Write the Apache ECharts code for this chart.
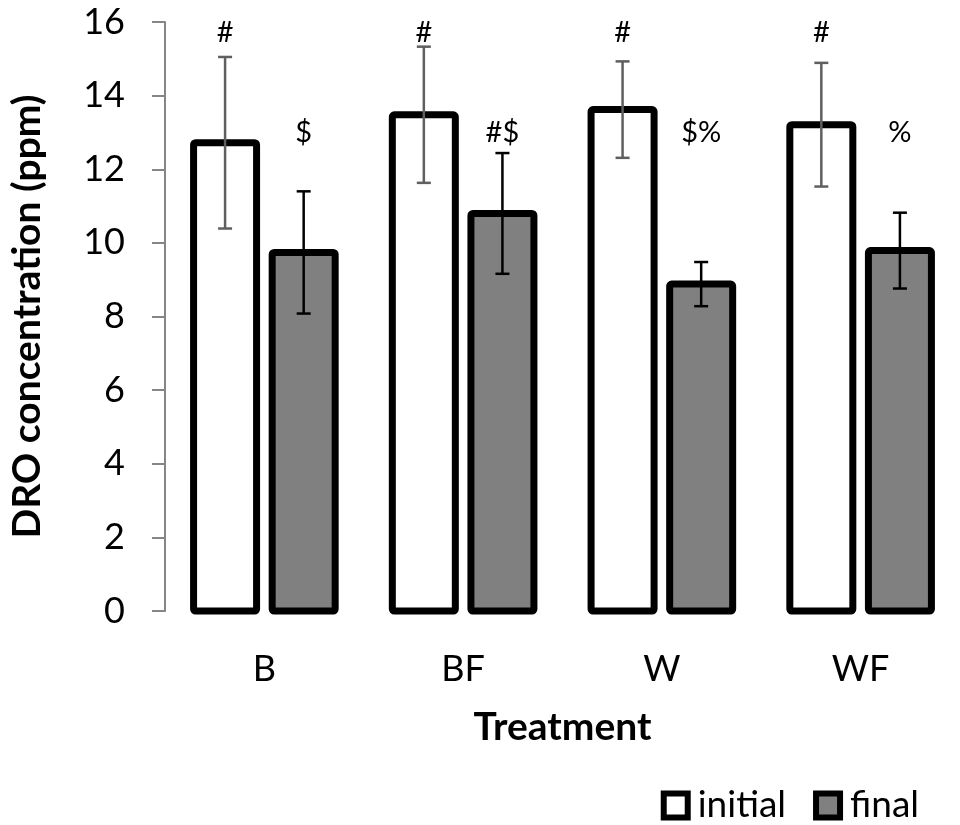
<!DOCTYPE html>
<html>
<head>
<meta charset="utf-8">
<script src="https://cdn.jsdelivr.net/npm/echarts@6/dist/echarts.min.js"></script>
<style>
  html, body { margin: 0; padding: 0; background: #fff; }
  #chart { width: 960px; height: 825px; }
</style>
</head>
<body>
<div id="chart"></div>
<script>
  // values
  var treatments = ['B', 'BF', 'W', 'WF'];
  var initialValues = [12.72, 13.48, 13.62, 13.21];
  var initialErrors = [2.33, 1.85, 1.31, 1.68];
  var finalValues = [9.74, 10.80, 8.88, 9.79];
  var finalErrors = [1.66, 1.64, 0.60, 1.03];
  var initialMarks = ['#', '#', '#', '#'];
  var finalMarks = ['$', '#$', '$%', '%'];
  var initialMarkLevel = 15.7;
  var finalMarkLevel = 13.0;
  var yTicks = [0, 2, 4, 6, 8, 10, 12, 14, 16];

  var fontName = 'Lato';
  var barWidth = 63;
  var barBorder = 7;
  var barShift = 39.3;

  function errorData(values, errors) {
    return values.map(function (v, i) {
      return [i, v - errors[i], v + errors[i]];
    });
  }

  function markData(marks, level) {
    return marks.map(function (m, i) {
      return [i, level, m];
    });
  }

  // bars drawn with the outline centred on the edge, as in the source figure
  function barSeries(name, values, shift, fill) {
    return {
      type: 'custom',
      name: name,
      data: values.map(function (v, i) { return [i, v]; }),
      itemStyle: { color: fill, borderColor: '#000', borderWidth: barBorder },
      z: 2,
      renderItem: function (params, api) {
        var base = api.coord([api.value(0), 0]);
        var top = api.coord([api.value(0), api.value(1)]);
        return {
          type: 'rect',
          shape: {
            x: base[0] + shift - barWidth / 2,
            y: top[1],
            width: barWidth,
            height: base[1] - top[1],
            r: 2
          },
          style: { fill: fill, stroke: '#000', lineWidth: barBorder, lineJoin: 'round' }
        };
      }
    };
  }

  function errorBarSeries(name, data, shift, color) {
    return {
      type: 'custom',
      name: name + ' error',
      data: data,
      z: 5,
      silent: true,
      renderItem: function (params, api) {
        var lo = api.coord([api.value(0), api.value(1)]);
        var hi = api.coord([api.value(0), api.value(2)]);
        var x = lo[0] + shift;
        var cap = 7;
        var style = { stroke: color, lineWidth: 2.5 };
        return {
          type: 'group',
          children: [
            { type: 'line', shape: { x1: x, y1: lo[1], x2: x, y2: hi[1] }, style: style },
            { type: 'line', shape: { x1: x - cap, y1: lo[1], x2: x + cap, y2: lo[1] }, style: style },
            { type: 'line', shape: { x1: x - cap, y1: hi[1], x2: x + cap, y2: hi[1] }, style: style }
          ]
        };
      }
    };
  }

  function markSeries(name, data, shift) {
    return {
      type: 'custom',
      name: name + ' marks',
      data: data,
      z: 6,
      silent: true,
      renderItem: function (params, api) {
        var p = api.coord([api.value(0), api.value(1)]);
        return {
          type: 'text',
          x: p[0] + shift,
          y: p[1],
          style: {
            text: data[params.dataIndex][2],
            fontFamily: fontName,
            fontSize: 29,
            fill: '#000',
            align: 'center',
            verticalAlign: 'middle'
          }
        };
      }
    };
  }

  var chart = echarts.init(document.getElementById('chart'));
  var option = {
    animation: false,
    backgroundColor: '#fff',
    textStyle: { fontFamily: fontName },
    grid: {
      left: 162,
      right: -18,
      top: 22,
      bottom: 214
    },
    legend: {
      data: [
        { name: 'initial', itemStyle: { color: '#fff', borderColor: '#000', borderWidth: 6 } },
        { name: 'final', itemStyle: { color: '#808080', borderColor: '#000', borderWidth: 6 } }
      ],
      right: 36,
      top: 782,
      icon: 'rect',
      itemWidth: 24,
      itemHeight: 24,
      itemGap: 27,
      textStyle: { fontFamily: fontName, fontSize: 37, color: '#000', padding: [0, 0, 0, 5] }
    },
    xAxis: {
      type: 'category',
      data: treatments,
      name: 'Treatment',
      nameLocation: 'middle',
      nameGap: 97,
      nameTextStyle: { fontFamily: fontName, fontSize: 39, fontWeight: 'bold', color: '#000' },
      axisLine: { show: false },
      axisTick: { show: false },
      axisLabel: { margin: 40, fontFamily: fontName, fontSize: 36, color: '#000' }
    },
    yAxis: {
      type: 'value',
      min: yTicks[0],
      max: yTicks[yTicks.length - 1],
      interval: yTicks[1] - yTicks[0],
      name: 'DRO concentration (ppm)',
      nameLocation: 'middle',
      nameGap: 118,
      nameTextStyle: { fontFamily: fontName, fontSize: 39, fontWeight: 'bold', color: '#000' },
      splitLine: { show: false },
      axisLine: { show: true, lineStyle: { color: '#868686', width: 2 } },
      axisTick: { show: true, length: 13, lineStyle: { color: '#868686', width: 2 } },
      axisLabel: { margin: 40, fontFamily: fontName, fontSize: 36, color: '#000' }
    },
    series: [
      barSeries('initial', initialValues, -barShift, '#fff'),
      barSeries('final', finalValues, barShift, '#808080'),
      errorBarSeries('initial', errorData(initialValues, initialErrors), -barShift, '#5f5f5f'),
      errorBarSeries('final', errorData(finalValues, finalErrors), barShift, '#000'),
      markSeries('initial', markData(initialMarks, initialMarkLevel), -barShift),
      markSeries('final', markData(finalMarks, finalMarkLevel), barShift)
    ]
  };
  chart.setOption(option);
</script>
</body>
</html>
